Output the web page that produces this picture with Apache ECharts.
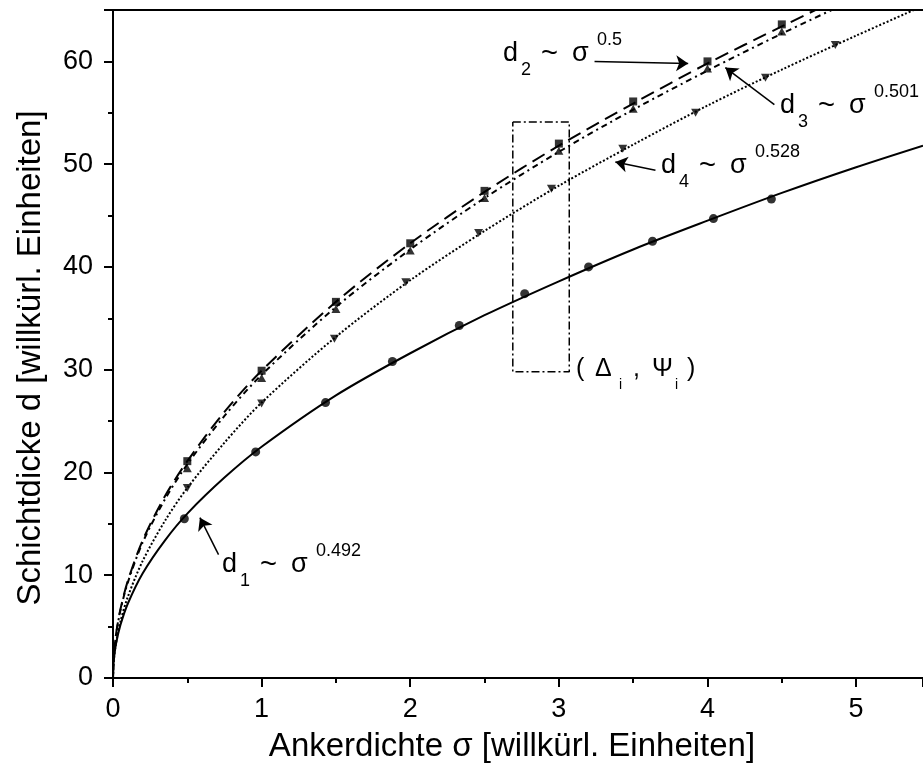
<!DOCTYPE html>
<html>
<head>
<meta charset="utf-8">
<script src="https://cdn.jsdelivr.net/npm/echarts@6/dist/echarts.min.js"></script>
<style>
  html, body { margin: 0; padding: 0; background: #fff; }
  #main { width: 923px; height: 769px; }
</style>
</head>
<body>
<div id="main"></div>
<script>
var d1X = [0.48, 0.96, 1.43, 1.88, 2.33, 2.77, 3.20, 3.63, 4.04, 4.43];
var d1Y = [15.5, 22.0, 26.8, 30.8, 34.3, 37.4, 40.0, 42.5, 44.7, 46.6];
var d2X = [0.5, 1, 1.5, 2, 2.5, 3, 3.5, 4, 4.5];
var d2Y = [21.1, 29.9, 36.6, 42.3, 47.4, 52.0, 56.1, 60.0, 63.6];
var d3X = [0.5, 1, 1.5, 2, 2.5, 3, 3.5, 4, 4.5];
var d3Y = [20.4, 29.2, 35.9, 41.6, 46.7, 51.3, 55.4, 59.3, 62.9];
var d4X = [0.5, 1.0, 1.49, 1.97, 2.46, 2.95, 3.43, 3.92, 4.39, 4.86];
var d4Y = [18.5, 26.7, 33.0, 38.5, 43.3, 47.6, 51.5, 55.0, 58.4, 61.6];

// fit curves
var fitX = [0, 0.005, 0.02, 0.05, 0.1, 0.2, 0.35, 0.5, 0.75, 1, 1.5, 2, 2.5, 3, 3.5, 4, 4.5, 5, 5.45];
var fit1 = [0, 1.66, 3.29, 5.15, 7.25, 10.2, 13.4, 16.0, 19.5, 22.5, 27.5, 31.6, 35.3, 38.6, 41.7, 44.5, 47.2, 49.7, 51.8];
var fit2 = [0, 2.11, 4.23, 6.69, 9.46, 13.4, 17.7, 21.1, 25.9, 29.9, 36.6, 42.3, 47.3, 51.8, 55.9, 59.8, 63.4, 66.9, 69.8];
var fit3 = [0, 2.07, 4.16, 6.58, 9.31, 13.2, 17.4, 20.8, 25.5, 29.5, 36.1, 41.7, 46.7, 51.2, 55.3, 59.1, 62.7, 66.1, 69.0];
var fit4 = [0, 1.63, 3.39, 5.49, 7.91, 11.4, 15.3, 18.5, 22.9, 26.8, 33.2, 38.7, 43.5, 47.9, 51.9, 55.7, 59.2, 62.5, 65.4];

// dash-dot box (Delta_i, Psi_i)
var boxX = [2.69, 3.07, 3.07, 2.69, 2.69];
var boxY = [54.1, 54.1, 29.8, 29.8, 54.1];

// annotation arrows: from -> to
var arrowFrom = [[3.24, 60.0], [4.45, 55.8], [3.65, 49.4], [0.71, 12.0]];
var arrowTo = [[3.87, 59.8], [4.12, 59.4], [3.38, 50.2], [0.585, 15.6]];

var xTicks = [0, 1, 2, 3, 4, 5];
var yTicks = [0, 10, 20, 30, 40, 50, 60];
var xTitle = 'Ankerdichte σ [willkürl. Einheiten]';
var yTitle = 'Schichtdicke d [willkürl. Einheiten]';

var font = "'Liberation Sans', Arial, sans-serif";

function pairs(xs, ys) {
  return xs.map(function (x, i) { return [x, ys[i]]; });
}

function txt(s, x, y, size, align) {
  return {
    type: 'text', silent: true, z: 100,
    x: x, y: y,
    style: { text: s, fill: '#000', font: size + 'px ' + font, align: align || 'left', verticalAlign: 'middle' }
  };
}

// d_n ~ sigma^p label, X = left of "d", B = baseline of "d"
function powLabel(X, B, sub, sup) {
  return [
    txt('d', X, B - 9.5, 27),
    txt(sub, X + 18, B + 13 - 6.3, 18),
    txt('~', X + 38, B - 9.5, 29),
    txt('σ', X + 69, B - 9.5, 27),
    txt(sup, X + 94, B - 17 - 6.3, 18)
  ];
}

var yTitleEl = txt(yTitle, 31, 358, 33, 'center');
yTitleEl.rotation = Math.PI / 2;

var graphics = []
  .concat(powLabel(503, 63, '2', '0.5'))
  .concat(powLabel(780, 115, '3', '0.501'))
  .concat(powLabel(661, 175, '4', '0.528'))
  .concat(powLabel(222, 574, '1', '0.492'))
  .concat([
    txt('(', 576, 369, 25),
    txt('Δ', 595, 369, 25),
    txt('i', 619, 385, 14),
    txt(',', 633, 369, 25),
    txt('Ψ', 652, 369, 25),
    txt('i', 675, 385, 14),
    txt(')', 687, 369, 25),
    txt(xTitle, 512, 747, 33, 'center'),
    yTitleEl
  ]);

var chart = echarts.init(document.getElementById('main'));

var axisLine = { show: true, lineStyle: { color: '#000', width: 2 } };

chart.setOption({
  animation: false,
  backgroundColor: '#fff',
  grid: { left: 113, right: 0, top: 10, bottom: 91 },
  xAxis: [{
    type: 'value', min: 0, max: 5.45, interval: 1,
    axisLine: axisLine,
    axisTick: { show: true, length: 9, lineStyle: { color: '#000', width: 2 } },
    minorTick: { show: true, splitNumber: 2, length: 5, lineStyle: { color: '#000', width: 2 } },
    splitLine: { show: false },
    axisLabel: {
      color: '#000', fontSize: 27, fontFamily: font, margin: 18, showMaxLabel: false,
      formatter: function (v) { return xTicks.indexOf(v) >= 0 ? String(v) : ''; }
    }
  }, {
    type: 'value', position: 'top', min: 0, max: 5.45,
    axisLine: axisLine, axisTick: { show: false }, axisLabel: { show: false }, splitLine: { show: false }
  }],
  yAxis: {
    type: 'value', min: 0, max: 65, interval: 10,
    axisLine: axisLine,
    axisTick: { show: true, length: 9, lineStyle: { color: '#000', width: 2 } },
    minorTick: { show: true, splitNumber: 2, length: 5, lineStyle: { color: '#000', width: 2 } },
    splitLine: { show: false },
    axisLabel: {
      color: '#000', fontSize: 27, fontFamily: font, margin: 20, showMaxLabel: false,
      formatter: function (v) { return yTicks.indexOf(v) >= 0 ? String(v) : ''; }
    }
  },
  series: [
    {
      name: 'fit1', type: 'line', data: pairs(fitX, fit1), showSymbol: false, smooth: 0.3,
      lineStyle: { color: '#000', width: 2 }, silent: true,
      markLine: {
        silent: true, symbol: ['none', 'arrow'], symbolSize: 12, animation: false,
        label: { show: false },
        lineStyle: { color: '#000', width: 1.5, type: 'solid' },
        data: arrowFrom.map(function (p, i) { return [{ coord: p }, { coord: arrowTo[i] }]; })
      }
    },
    {
      name: 'fit2', type: 'line', data: pairs(fitX, fit2), showSymbol: false, smooth: 0.3,
      lineStyle: { color: '#000', width: 2, type: [14, 7] }, silent: true
    },
    {
      name: 'fit3', type: 'line', data: pairs(fitX, fit3), showSymbol: false, smooth: 0.3,
      lineStyle: { color: '#000', width: 2, type: [6, 4, 2, 4] }, silent: true
    },
    {
      name: 'fit4', type: 'line', data: pairs(fitX, fit4), showSymbol: false, smooth: 0.3,
      lineStyle: { color: '#000', width: 2, type: [2, 2] }, silent: true
    },
    {
      name: 'box', type: 'line', data: pairs(boxX, boxY), showSymbol: false,
      lineStyle: { color: '#000', width: 1.5, type: [8, 3, 2, 3] }, silent: true
    },
    { name: 'd1', type: 'scatter', data: pairs(d1X, d1Y), symbol: 'circle', symbolSize: 9, itemStyle: { color: '#000' }, z: 5 },
    { name: 'd2', type: 'scatter', data: pairs(d2X, d2Y), symbol: 'rect', symbolSize: 8, itemStyle: { color: '#000' }, z: 5 },
    { name: 'd3', type: 'scatter', data: pairs(d3X, d3Y), symbol: 'triangle', symbolSize: [9, 8], itemStyle: { color: '#000' }, z: 5 },
    { name: 'd4', type: 'scatter', data: pairs(d4X, d4Y), symbol: 'triangle', symbolRotate: 180, symbolSize: [9, 8], itemStyle: { color: '#000' }, z: 5 }
  ],
  graphic: graphics
});
</script>
</body>
</html>
